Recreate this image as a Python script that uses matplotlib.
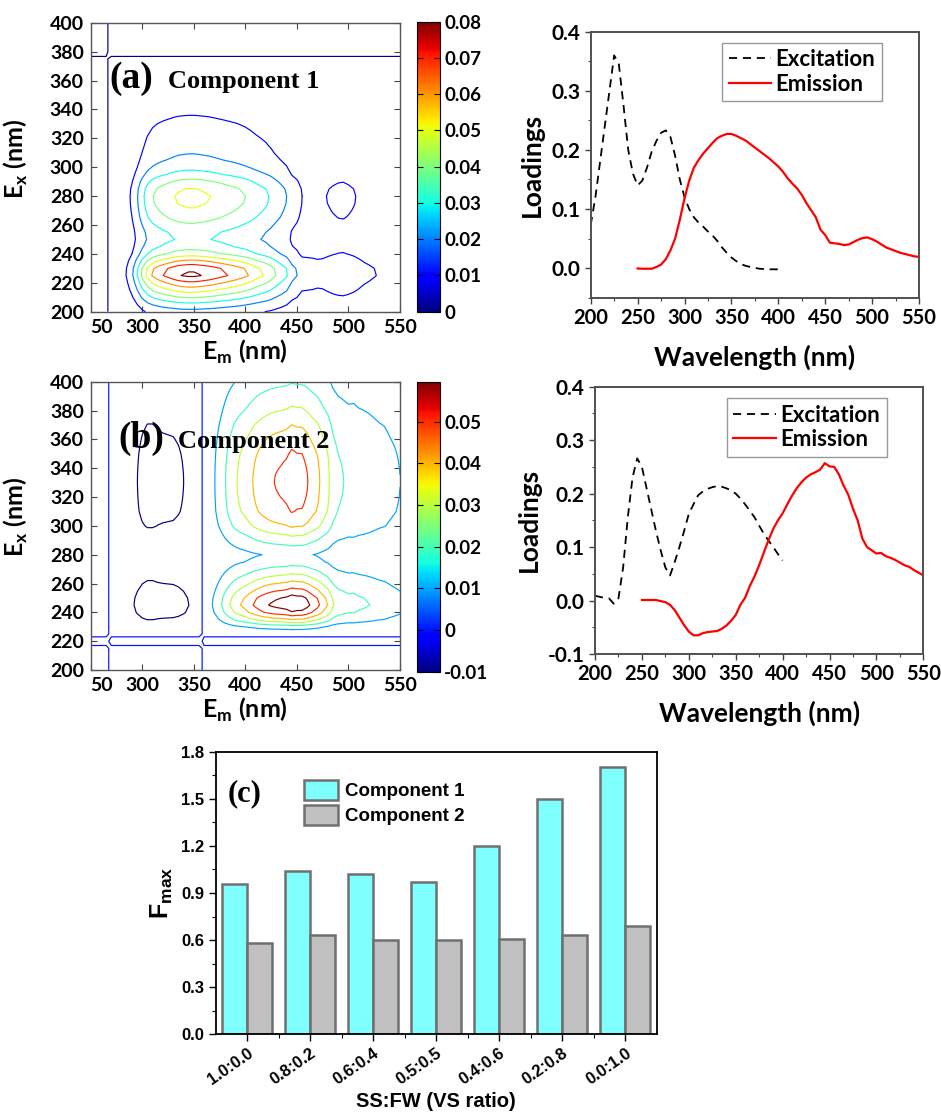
import matplotlib
matplotlib.use('Agg')
import matplotlib.pyplot as plt
import numpy as np
from matplotlib.colors import Normalize
from matplotlib.cm import ScalarMappable
from matplotlib.ticker import MultipleLocator, FormatStrFormatter

plt.rcParams['font.family'] = ['Lato', 'DejaVu Sans']
plt.rcParams['font.weight'] = 'bold'
plt.rcParams['axes.labelweight'] = 'bold'
plt.rcParams['mathtext.fontset'] = 'custom'
plt.rcParams['mathtext.rm'] = 'Lato:bold'
plt.rcParams['mathtext.sf'] = 'Liberation Sans'

# ---- data: PARAFAC loadings ----
ex_wl = np.arange(200, 405, 5)   # excitation wavelengths (nm)
em_wl = np.arange(250, 555, 5)   # emission wavelengths (nm)

ex_c1 = [0.073, 0.12, 0.18, 0.24, 0.30, 0.36, 0.345, 0.275, 0.20, 0.16,
         0.14, 0.148, 0.17, 0.197, 0.215, 0.229, 0.233, 0.222, 0.19, 0.15,
         0.12, 0.10, 0.086, 0.077, 0.07, 0.062, 0.055, 0.046, 0.035, 0.026,
         0.018, 0.012, 0.007, 0.004, 0.002, 0.0005, -0.001, -0.0015, -0.002, -0.002,
         -0.002]
em_c1 = [-0.0005, -0.001, -0.001, -0.001, 0.002, 0.006, 0.015, 0.03, 0.05, 0.082,
         0.118, 0.148, 0.17, 0.183, 0.194, 0.203, 0.212, 0.22, 0.224, 0.227,
         0.227, 0.224, 0.22, 0.216, 0.21, 0.204, 0.198, 0.192, 0.186, 0.179,
         0.172, 0.163, 0.152, 0.143, 0.135, 0.124, 0.11, 0.098, 0.086, 0.065,
         0.056, 0.043, 0.042, 0.041, 0.039, 0.04, 0.044, 0.048, 0.051, 0.052,
         0.049, 0.045, 0.04, 0.035, 0.032, 0.029, 0.026, 0.024, 0.022, 0.02,
         0.019]
ex_c2 = [0.009, 0.007, 0.005, 0.004, -0.006, 0.004, 0.062, 0.156, 0.23, 0.266,
         0.25, 0.21, 0.17, 0.13, 0.094, 0.062, 0.047, 0.072, 0.10, 0.13,
         0.162, 0.18, 0.197, 0.204, 0.209, 0.212, 0.214, 0.213, 0.21, 0.206,
         0.20, 0.191, 0.18, 0.168, 0.156, 0.14, 0.125, 0.112, 0.10, 0.087,
         0.075]
em_c2 = [0.001, 0.001, 0.001, 0.001, -0.001, -0.003, -0.008, -0.018, -0.032, -0.046,
         -0.058, -0.065, -0.065, -0.061, -0.059, -0.058, -0.057, -0.053, -0.047, -0.038,
         -0.027, -0.008, 0.005, 0.027, 0.045, 0.066, 0.09, 0.113, 0.134, 0.15,
         0.163, 0.18, 0.196, 0.21, 0.221, 0.23, 0.236, 0.24, 0.245, 0.257,
         0.251, 0.25, 0.236, 0.215, 0.198, 0.172, 0.15, 0.116, 0.10, 0.094,
         0.088, 0.089, 0.083, 0.08, 0.076, 0.071, 0.066, 0.063, 0.057, 0.052,
         0.047]

# contour levels / colour ranges of the two EEM maps
levels_c1 = [0, 0.01, 0.02, 0.03, 0.04, 0.05, 0.06, 0.07, 0.08]
levels_c2 = [-0.01, 0, 0.01, 0.02, 0.03, 0.04, 0.05, 0.06]
cb_ticks_c1 = [0, 0.01, 0.02, 0.03, 0.04, 0.05, 0.06, 0.07, 0.08]
cb_labels_c1 = ['0', '0.01', '0.02', '0.03', '0.04', '0.05', '0.06', '0.07', '0.08']
cb_ticks_c2 = [-0.01, 0, 0.01, 0.02, 0.03, 0.04, 0.05]
cb_labels_c2 = ['-0.01', '0', '0.01', '0.02', '0.03', '0.04', '0.05']

em_ticks = [250, 300, 350, 400, 450, 500, 550]
em_ticklabels = ['50', '300', '350', '400', '450', '500', '550']

# Fmax bar chart
ratios = ['1.0:0.0', '0.8:0.2', '0.6:0.4', '0.5:0.5', '0.4:0.6', '0.2:0.8', '0.0:1.0']
fmax_c1 = [0.96, 1.04, 1.02, 0.97, 1.20, 1.50, 1.70]
fmax_c2 = [0.58, 0.63, 0.60, 0.60, 0.61, 0.63, 0.69]

W, H = 941, 1115
fig = plt.figure(figsize=(W / 100, H / 100), dpi=100)


def px_axes(l, t, r, b):
    return fig.add_axes([l / W, 1 - b / H, (r - l) / W, (b - t) / H])


def bold_ticks(ax):
    for lab in ax.get_xticklabels() + ax.get_yticklabels():
        lab.set_fontweight('bold')


def eem_panel(box, cbox, ex, em, levels, vmin, vmax, cticks, clabels, tag, name, tagpos, namepos):
    ax = px_axes(*box)
    norm = Normalize(vmin, vmax)
    z = np.outer(ex, em)
    ax.contour(em_wl, ex_wl, z, levels=levels, cmap='jet', norm=norm, linewidths=0.85)
    ax.set_xlim(250, 550)
    ax.set_ylim(200, 400)
    ax.set_xticks(em_ticks)
    ax.set_xticklabels(em_ticklabels)
    ax.get_xticklabels()[0].set_ha('left')
    ax.set_yticks(np.arange(200, 401, 20))
    ax.tick_params(direction='in', top=True, right=True, length=4, width=0.8,
                   labelsize=14, pad=5, color='#444444')
    bold_ticks(ax)
    for s in ax.spines.values():
        s.set_color('#555555')
        s.set_linewidth(1.0)
    ax.set_xlabel('E$_\\mathrm{m}$ (nm)', fontsize=18)
    ax.xaxis.set_label_coords(0.5, -0.09)
    ax.xaxis.label.set_va('top')
    ax.set_ylabel('E$_\\mathrm{x}$ (nm)', fontsize=18)
    ax.yaxis.set_label_coords(-0.195, 0.53)
    ax.text(tagpos[0], tagpos[1], tag, family='Liberation Serif', fontsize=27,
            fontweight='bold', va='baseline')
    ax.text(namepos[0], namepos[1], name, family='Liberation Serif', fontsize=19,
            fontweight='bold', va='baseline')

    cax = px_axes(*cbox)
    cb = fig.colorbar(ScalarMappable(norm=norm, cmap='jet'), cax=cax)
    cb.set_ticks(cticks)
    cb.set_ticklabels(clabels)
    cb.outline.set_linewidth(0.8)
    cax.tick_params(direction='in', length=4, width=0.8, left=True, right=True,
                    labelsize=13.5, pad=3)
    for lab in cax.get_yticklabels():
        lab.set_fontweight('bold')
    return ax


eem_panel((90.7, 22.7, 400, 311.7), (416.7, 21.7, 440, 311.7), ex_c1, em_c1,
          levels_c1, 0, 0.08, cb_ticks_c1, cb_labels_c1, '(a)', 'Component 1',
          (268.5, 355), (325, 355))
eem_panel((90.7, 381.7, 400, 670), (416.7, 381.7, 440, 671.7), ex_c2, em_c2,
          levels_c2, -0.01, 0.0596, cb_ticks_c2, cb_labels_c2, '(b)', 'Component 2',
          (276.5, 354), (335, 354))


def loading_panel(box, ex, em, ylim, yticks, leg_anchor):
    ax = px_axes(*box)
    ax.plot(ex_wl, ex, color='black', lw=1.3, ls=(0, (4.5, 3.2)), label='Excitation')
    ax.plot(em_wl, em, color='#ff0000', lw=1.6, label='Emission')
    ax.set_xlim(200, 550)
    ax.set_ylim(*ylim)
    ax.set_xticks(np.arange(200, 551, 50))
    ax.xaxis.set_minor_locator(MultipleLocator(25))
    ax.set_yticks(yticks)
    ax.yaxis.set_minor_locator(MultipleLocator(0.05))
    ax.yaxis.set_major_formatter(FormatStrFormatter('%.1f'))
    ax.tick_params(which='major', direction='out', length=4, width=1.0, labelsize=15,
                   color='#404040')
    ax.tick_params(axis='x', which='major', labelsize=14.5)
    ax.tick_params(which='minor', direction='out', length=2.5, width=0.8, color='#404040')
    bold_ticks(ax)
    for s in ax.spines.values():
        s.set_color('#505050')
        s.set_linewidth(1.4)
    ax.set_xlabel('Wavelength (nm)', fontsize=19, labelpad=12)
    ax.set_ylabel('Loadings', fontsize=19, labelpad=5)
    leg = ax.legend(loc='upper right', bbox_to_anchor=leg_anchor,
                    prop={'size': 16, 'weight': 'bold'},
                    frameon=True, fancybox=False, framealpha=1, edgecolor='#999999',
                    borderaxespad=0, handlelength=1.9, handletextpad=0.2,
                    labelspacing=0.15, borderpad=0.3)
    leg.get_frame().set_linewidth(1.0)
    return ax


loading_panel((590.7, 31.7, 919, 297.7), ex_c1, em_c1, (-0.05, 0.4),
              [0.0, 0.1, 0.2, 0.3, 0.4], (0.887, 0.959))
loading_panel((595, 386.7, 923.3, 654), ex_c2, em_c2, (-0.1, 0.4),
              [-0.1, 0.0, 0.1, 0.2, 0.3, 0.4], (0.888, 0.957))

# ---- (c) Fmax bars ----
sans = ['Liberation Sans', 'DejaVu Sans']
ax = px_axes(215.7, 751.7, 656.7, 1034.3)
x = np.arange(len(ratios))
ax.bar(x - 0.2, fmax_c1, 0.4, color='#80ffff', edgecolor='#707070', lw=1.8,
       label='Component 1')
ax.bar(x + 0.2, fmax_c2, 0.4, color='#c0c0c0', edgecolor='#707070', lw=1.8,
       label='Component 2')
ax.set_xlim(-0.5, len(ratios) - 0.5)
ax.set_ylim(0, 1.8)
ax.set_yticks(np.arange(0, 1.81, 0.3))
ax.yaxis.set_major_formatter(FormatStrFormatter('%.1f'))
ax.yaxis.set_minor_locator(MultipleLocator(0.15))
ax.set_xticks(x)
ax.set_xticks(x[:-1] + 0.5, minor=True)
ax.set_xticklabels(ratios, rotation=35, ha='right', va='top', rotation_mode='anchor',
                   family=sans, fontsize=12, fontweight='bold')
for lab in ax.get_yticklabels():
    lab.set_family(sans)
    lab.set_fontsize(12)
    lab.set_fontweight('bold')
ax.tick_params(which='major', direction='out', length=5, width=1.0)
ax.tick_params(axis='x', which='major', pad=3)
ax.tick_params(which='minor', direction='out', length=3, width=0.8)
for s in ax.spines.values():
    s.set_linewidth(1.3)
ax.set_xlabel('SS:FW (VS ratio)', family=sans, fontsize=14.5)
ax.xaxis.set_label_coords(0.5, -0.205)
ax.xaxis.label.set_va('top')
ax.set_ylabel('F$_\\mathsf{max}$', family=sans, fontsize=18, labelpad=4)
ax.text(0.028, 0.85, '(c)', transform=ax.transAxes, family='Liberation Serif',
        fontsize=22, fontweight='bold', va='center')
ax.legend(loc='upper left', bbox_to_anchor=(0.2, 0.9), frameon=False,
          prop={'family': sans, 'size': 13.5, 'weight': 'bold'},
          handlelength=1.8, handleheight=1.25, handletextpad=0.4, labelspacing=0.25,
          borderaxespad=0, borderpad=0)

fig.savefig('out.png', dpi=100, facecolor='white')
